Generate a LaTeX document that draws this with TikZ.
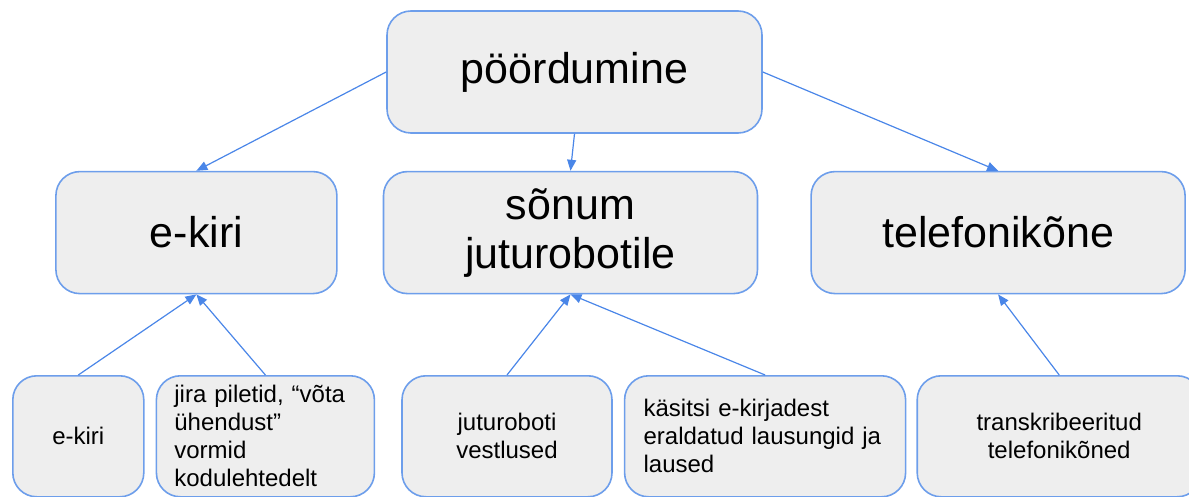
\documentclass[tikz,border=0pt]{standalone}
\usepackage{fontspec}
\setmainfont{Liberation Sans}
\usepackage{tikz}
\usetikzlibrary{arrows.meta, positioning}
\definecolor{boxblue}{RGB}{109,158,235}
\definecolor{boxgrey}{RGB}{238,238,238}
\definecolor{arrowblue}{RGB}{74,134,232}
\tikzstyle{block} = [draw=boxblue, fill=boxgrey, line width=1.6pt, rectangle, rounded corners=24pt, inner sep=0pt]
\tikzstyle{topic} = [block, minimum height=122pt, align=center, font=\fontsize{43}{49}\selectfont]
\tikzstyle{source} = [block, minimum height=121pt, font=\fontsize{24}{28}\selectfont]
\tikzstyle{arrow} = [-{Triangle[length=11pt, width=9pt]}, line width=1.2pt, arrowblue]

\begin{document}
\begin{tikzpicture}[x=1pt, y=1pt]
    \useasboundingbox (0,0) rectangle (1189,-497);

    \node (top) [topic, minimum width=375pt] at (574.5,-72) {pöördumine};
    \node (sonum) [topic, minimum width=374pt, below=37pt of top, xshift=-4pt] {sõnum\\juturobotile};
    \node (ekiri) [topic, minimum width=281pt, left=45pt of sonum] {e-kiri};
    \node (telefon) [topic, minimum width=374pt, right=52pt of sonum] {telefonikõne};

    \node (bekiri) [source, minimum width=131pt, anchor=north west] at (12,-375) {e-kiri};
    \node (jira) [source, minimum width=218pt, text width=182pt, align=left, right=11pt of bekiri] {jira piletid, “võta\\ühendust”\\vormid\\kodulehtedelt};
    \node (jutu) [source, minimum width=210pt, align=center, right=26pt of jira] {juturoboti\\vestlused};
    \node (kasitsi) [source, minimum width=281pt, text width=243pt, align=left, right=11pt of jutu] {käsitsi e-kirjadest\\eraldatud lausungid ja\\laused};
    \node (transk) [source, minimum width=284pt, align=center, right=12pt of kasitsi, xshift=-2pt] {transkribeeritud\\telefonikõned};

    % Arrows.
    \draw [arrow] (top.west) -- (ekiri.north);
    \draw [arrow] (top.south) -- (sonum.north);
    \draw [arrow] (top.east) -- (telefon.north);
    \draw [arrow] (bekiri.north) -- (ekiri.south);
    \draw [arrow] (jira.north) -- (ekiri.south);
    \draw [arrow] (jutu.north) -- (sonum.south);
    \draw [arrow] (kasitsi.north) -- (sonum.south);
    \draw [arrow] (transk.north) -- (telefon.south);
\end{tikzpicture}
\end{document}
